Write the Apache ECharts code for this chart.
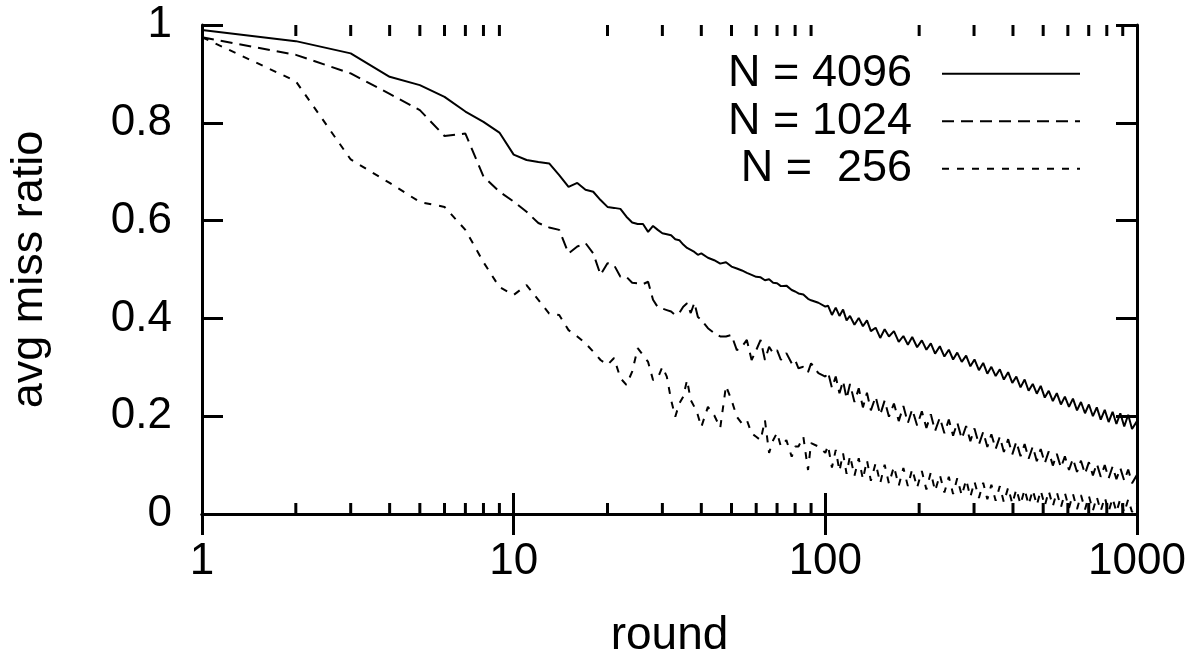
<!DOCTYPE html>
<html><head><meta charset="utf-8">
<script src="https://cdn.jsdelivr.net/npm/echarts@6/dist/echarts.min.js"></script>
<style>html,body{margin:0;padding:0;background:#fff}#c{width:1199px;height:657px}</style>
</head><body><div id="c"></div>
<script>
// x values (round numbers) shared by all three series
const rounds = [
  1,2,3,4,5,6,7,8,9,10,
  11,12,13,14,15,16,17,18,19,20,
  21,22,23,24,25,26,27,28,29,30,
  31,32,33,34,35,36,37,38,39,40,
  42,44,46,48,50,52,54,56,58,60,
  62,64,66,68,70,72,75,78,80,82,
  85,88,90,95,100,
  102,105,108,111,114,117,120,124,128,132,
  136,140,145,150,155,160,166,172,178,184,
  190,197,204,211,218,225,233,241,249,257,
  265,274,283,292,301,311,321,331,341,352,
  363,374,386,398,410,423,436,449,463,477,
  491,506,521,537,553,570,587,605,623,642,
  661,681,701,722,743,765,788,811,835,859,
  884,910,937,964,1000
];
const n4096 = [
  .990,.967,.942,.894,.877,.853,.823,.802,.780,.735,
  .724,.720,.717,.693,.669,.677,.663,.659,.642,.628,
  .626,.624,.608,.596,.593,.593,.577,.589,.581,.574,
  .572,.570,.562,.560,.551,.544,.540,.536,.530,.533,
  .524,.519,.512,.515,.506,.502,.498,.493,.489,.485,
  .484,.478,.480,.473,.472,.466,.467,.458,.455,.451,
  .449,.440,.437,.432,.424,
  .426,.407,.422,.405,.418,.396,.405,.387,.401,.384,
  .396,.374,.381,.360,.378,.363,.374,.352,.364,.346,
  .362,.341,.355,.336,.349,.328,.343,.322,.336,.316,
  .330,.311,.324,.302,.316,.294,.309,.287,.301,.282,
  .296,.275,.290,.268,.281,.259,.275,.252,.266,.246,
  .262,.238,.252,.231,.247,.224,.240,.219,.236,.212,
  .229,.206,.224,.200,.218,.193,.213,.188,.209,.184,
  .206,.179,.203,.174,.190
];
const n1024 = [
  .975,.939,.901,.859,.826,.773,.778,.690,.659,.639,
  .618,.595,.586,.581,.533,.547,.554,.533,.489,.513,
  .509,.485,.485,.473,.472,.470,.475,.438,.423,.420,
  .417,.414,.407,.411,.424,.431,.411,.432,.403,.397,
  .380,.370,.363,.363,.366,.335,.342,.356,.315,.335,
  .356,.315,.342,.329,.335,.315,.329,.308,.315,.298,
  .301,.290,.308,.288,.281,
  .290,.258,.281,.247,.272,.236,.266,.229,.257,.218,
  .248,.212,.240,.203,.232,.199,.226,.190,.221,.186,
  .214,.181,.210,.176,.204,.170,.197,.165,.193,.160,
  .187,.154,.180,.149,.175,.142,.168,.137,.163,.133,
  .158,.127,.153,.122,.148,.118,.143,.113,.138,.108,
  .133,.104,.128,.099,.123,.095,.118,.090,.113,.086,
  .109,.082,.106,.079,.103,.076,.100,.073,.097,.071,
  .094,.068,.091,.063,.080
];
const n256 = [
  .975,.885,.725,.677,.638,.628,.581,.515,.464,.448,
  .468,.438,.410,.407,.376,.363,.349,.332,.315,.305,
  .319,.278,.264,.291,.339,.325,.311,.274,.278,.301,
  .281,.233,.199,.226,.240,.274,.233,.219,.202,.178,
  .219,.202,.176,.262,.233,.199,.185,.192,.165,.158,
  .151,.192,.125,.151,.166,.138,.151,.117,.138,.138,
  .158,.090,.145,.138,.125,
  .140,.095,.131,.088,.124,.082,.119,.078,.114,.071,
  .110,.068,.104,.063,.101,.062,.097,.058,.094,.057,
  .092,.054,.088,.050,.085,.047,.080,.044,.076,.041,
  .073,.038,.070,.035,.066,.033,.064,.030,.060,.027,
  .057,.024,.054,.021,.051,.020,.050,.019,.049,.018,
  .048,.017,.047,.016,.045,.014,.043,.012,.041,.010,
  .039,.009,.037,.007,.035,.006,.034,.005,.032,.004,
  .031,.003,.030,.004,.022
];
const seriesNames = ['N = 4096', 'N = 1024', 'N =  256'];
const xTickValues = [1, 10, 100, 1000];
const minorTicks = [2,3,4,5,6,7,8,9,20,30,40,50,60,70,80,90,200,300,400,500,600,700,800,900];

const FONT = 'Liberation Sans, Arial, sans-serif';
function pairs(vals) { return rounds.map((r, i) => [r, vals[i]]); }

const axisLineStyle = { color: '#000', width: 3 };
const chart = echarts.init(document.getElementById('c'));
chart.setOption({
  animation: false,
  backgroundColor: '#fff',
  grid: { left: 202, right: 62, top: 25, bottom: 143, containLabel: false, outerBoundsMode: 'none' },
  legend: {
    data: seriesNames,
    orient: 'vertical',
    align: 'right',
    right: 113,
    top: 45,
    itemWidth: 138,
    itemHeight: 2,
    itemGap: 0,
    selectedMode: false,
    itemStyle: { color: 'rgba(0,0,0,0)', borderWidth: 0, opacity: 0 },
    textStyle: { fontSize: 45, fontFamily: FONT, color: '#000', lineHeight: 47.5, padding: [0, 25, 0, 0] }
  },
  xAxis: [
    {
      type: 'log', logBase: 10, min: 1, max: 1000, position: 'bottom',
      axisLine: { lineStyle: axisLineStyle },
      axisTick: { inside: true, length: 21, lineStyle: { color: '#000', width: 3 } },
      axisLabel: { fontSize: 44, fontFamily: FONT, color: '#000', margin: 26,
        formatter: v => String(xTickValues.find(t => Math.abs(t - v) / t < 1e-6) ?? Math.round(v)) },
      splitLine: { show: false },
      name: 'round', nameLocation: 'middle', nameGap: 99,
      nameTextStyle: { fontSize: 46, fontFamily: FONT, color: '#000' }
    },
    {
      type: 'log', logBase: 10, min: 1, max: 1000, position: 'top',
      axisLine: { lineStyle: axisLineStyle },
      axisTick: { inside: true, length: 21, lineStyle: { color: '#000', width: 3 } },
      axisLabel: { show: false },
      splitLine: { show: false }
    }
  ],
  yAxis: [
    {
      type: 'value', min: 0, max: 1, interval: 0.2, position: 'left',
      axisLine: { show: true, lineStyle: axisLineStyle },
      axisTick: { show: true, inside: true, length: 21, lineStyle: { color: '#000', width: 3 } },
      axisLabel: { fontSize: 44, fontFamily: FONT, color: '#000', margin: 30 },
      splitLine: { show: false },
      name: 'avg miss ratio', nameLocation: 'middle', nameGap: 150, nameRotate: 90,
      nameTextStyle: { fontSize: 45, fontFamily: FONT, color: '#000' }
    },
    {
      type: 'value', min: 0, max: 1, interval: 0.2, position: 'right',
      axisLine: { show: true, lineStyle: axisLineStyle },
      axisTick: { show: true, inside: true, length: 21, lineStyle: { color: '#000', width: 3 } },
      axisLabel: { show: false },
      splitLine: { show: false }
    }
  ],
  series: [
    { name: seriesNames[0], type: 'line', data: pairs(n4096), symbol: 'none', showSymbol: false,
      itemStyle: { color: '#000' }, lineStyle: { color: '#000', width: 2, type: 'solid' } },
    { name: seriesNames[1], type: 'line', data: pairs(n1024), symbol: 'none', showSymbol: false,
      itemStyle: { color: '#000' }, lineStyle: { color: '#000', width: 2, type: [12, 7] } },
    { name: seriesNames[2], type: 'line', data: pairs(n256), symbol: 'none', showSymbol: false,
      itemStyle: { color: '#000' }, lineStyle: { color: '#000', width: 2, type: [7, 8] } },
    {
      type: 'custom', silent: true, clip: false, z: 10,
      data: minorTicks.map(v => [v, 0.5]),
      encode: { x: 0, y: 1 },
      renderItem: function (params, api) {
        const v = api.value(0);
        const cs = params.coordSys;
        const x = api.coord([v, 0.5])[0];
        const top = cs.y;
        const bottom = cs.y + cs.height;
        return {
          type: 'group',
          children: [
            { type: 'line', shape: { x1: x, y1: bottom, x2: x, y2: bottom - 11 }, style: { stroke: '#000', lineWidth: 3 } },
            { type: 'line', shape: { x1: x, y1: top, x2: x, y2: top + 11 }, style: { stroke: '#000', lineWidth: 3 } }
          ]
        };
      }
    }
  ]
});
</script></body></html>
